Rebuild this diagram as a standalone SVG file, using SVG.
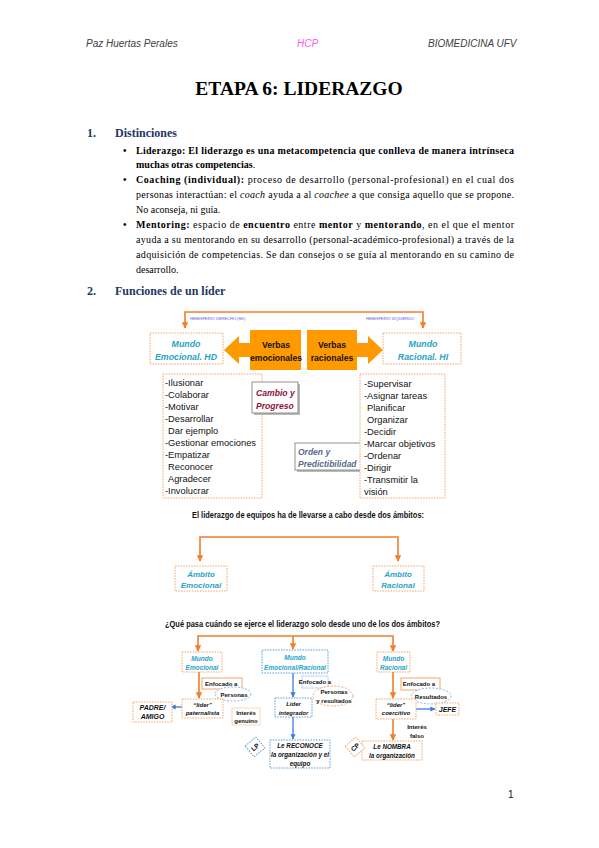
<svg xmlns="http://www.w3.org/2000/svg" width="599" height="848" viewBox="0 0 599 848">
<defs>
<style>
.hdr{font-family:"Liberation Sans",Arial,sans-serif;font-style:italic;font-size:10px;fill:#404040}
.body{font-family:"Liberation Serif","Times New Roman",serif;font-size:10px;fill:#000}
.h{font-family:"Liberation Serif","Times New Roman",serif;font-weight:bold;font-size:12px;fill:#1f3864}
.dg{font-family:"Liberation Sans",Arial,sans-serif;fill:#111}
.cy{font-family:"Liberation Sans",Arial,sans-serif;fill:#2aa3c6;font-style:italic;font-weight:bold}
.bi{font-weight:bold;font-style:italic}
.b{font-weight:bold}
.dor{fill:#fff;stroke:#f4a46a;stroke-width:1;stroke-dasharray:1.5 1.2}
.dbl{fill:#fff;stroke:#5b9bd5;stroke-width:1;stroke-dasharray:1.5 1.2}
.con{fill:none;stroke:#f07f2a;stroke-width:1.6}
.conb{fill:none;stroke:#3b7dd8;stroke-width:1.3}
.ell-b{fill:#fff;stroke:#8fb4e3;stroke-width:1;stroke-dasharray:2 1.5}
.ell-o{fill:#fff;stroke:#f4a46a;stroke-width:1;stroke-dasharray:2 1.5}
.mid{text-anchor:middle}
</style>
<marker id="ao" viewBox="0 0 10 10" refX="9" refY="5" markerWidth="4" markerHeight="4" orient="auto-start-reverse"><path d="M0,0 L10,5 L0,10 z" fill="#f07f2a"/></marker>
<marker id="ab" viewBox="0 0 10 10" refX="9" refY="5" markerWidth="4" markerHeight="4" orient="auto-start-reverse"><path d="M0,0 L10,5 L0,10 z" fill="#3b7dd8"/></marker>
</defs>
<rect width="599" height="848" fill="#fff"/>

<!-- header -->
<text class="hdr" x="86" y="47">Paz Huertas Perales</text>
<text class="hdr" x="297" y="47" style="fill:#f060f0">HCP</text>
<text class="hdr" x="428" y="47">BIOMEDICINA UFV</text>

<text x="299" y="95" class="mid" font-family="Liberation Serif, Times New Roman, serif" font-weight="bold" font-size="19.5">ETAPA 6: LIDERAZGO</text>

<text class="h" x="87" y="137">1.</text>
<text class="h" x="115" y="137">Distinciones</text>

<g class="body">
<text x="123" y="154" class="b">•</text>
<text x="123" y="183" class="b">•</text>
<text x="123" y="228" class="b">•</text>
<text x="136" y="153.5" class="b" textLength="378" lengthAdjust="spacing">Liderazgo: El liderazgo es una metacompetencia que conlleva de manera intrínseca</text>
<text x="136" y="167.5" class="b">muchas otras competencias<tspan font-weight="normal">.</tspan></text>
<text x="136" y="182.5" textLength="378" lengthAdjust="spacing"><tspan class="b">Coaching (individual):</tspan> proceso de desarrollo (personal-profesional) en el cual dos</text>
<text x="136" y="197.5" textLength="378" lengthAdjust="spacing">personas interactúan: el <tspan font-style="italic">coach</tspan> ayuda a al <tspan font-style="italic">coachee</tspan> a que consiga aquello que se propone.</text>
<text x="136" y="212.5">No aconseja, ni guía.</text>
<text x="136" y="227.5" textLength="378" lengthAdjust="spacing"><tspan class="b">Mentoring:</tspan> espacio de <tspan class="b">encuentro</tspan> entre <tspan class="b">mentor</tspan> y <tspan class="b">mentorando</tspan>, en el que el mentor</text>
<text x="136" y="242.5" textLength="378" lengthAdjust="spacing">ayuda a su mentorando en su desarrollo (personal-académico-profesional) a través de la</text>
<text x="136" y="257.5" textLength="378" lengthAdjust="spacing">adquisición de competencias. Se dan consejos o se guía al mentorando en su camino de</text>
<text x="136" y="272.5">desarrollo.</text>
</g>

<text class="h" x="87" y="295">2.</text>
<text class="h" x="115" y="295">Funciones de un líder</text>

<!-- connectors -->
<g id="connectors">
<path class="con" d="M185 328 V312 H423 V328" marker-start="url(#ao)" marker-end="url(#ao)"/>
<path class="con" d="M200 561 V537 H398 V561" marker-start="url(#ao)" marker-end="url(#ao)"/>
<path class="con" d="M198 651 V636 H393 V651" marker-start="url(#ao)" marker-end="url(#ao)"/>
<path class="con" d="M293 636 V649" marker-end="url(#ao)"/>
<path class="con" d="M199 672 V698" marker-end="url(#ao)"/>
<path class="conb" d="M182 707 H171" marker-end="url(#ab)"/>
<path class="conb" d="M293 673 V697" marker-end="url(#ab)"/>
<path class="conb" d="M293 717 V739" marker-end="url(#ab)"/>
<path class="con" d="M393 672 V698" marker-end="url(#ao)"/>
<path class="conb" d="M416 709 H435" marker-end="url(#ab)"/>
<path class="con" d="M393 719 V740" marker-end="url(#ao)"/>
</g>

<g id="hd-label"><text class="dg" x="190" y="320" font-size="4" style="fill:#5a50e0">HEMISFERIO DERECHO (HD)</text></g>
<g id="hi-label"><text class="dg" x="366" y="320" font-size="4" style="fill:#5a50e0">HEMISFERIO IZQUIERDO</text></g>

<g id="mundo-emocional-hd">
<rect class="dor" x="150" y="333" width="73" height="31"/>
<text class="cy mid" x="186" y="347" font-size="8.8">Mundo</text>
<text class="cy mid" x="186" y="360" font-size="8.8">Emocional. HD</text>
</g>

<g id="verbas-emocionales">
<polygon points="224,350 239,336 239,343 250,343 250,330 301,330 301,370 250,370 250,357 239,357 239,364" fill="#ff9900"/>
<text class="dg b mid" x="276" y="348" font-size="8.6">Verbas</text>
<text class="dg b mid" x="276" y="361" font-size="8.6">emocionales</text>
</g>

<g id="verbas-racionales">
<polygon points="383,350 368,336 368,343 357,343 357,330 307,330 307,370 357,370 357,357 368,357 368,364" fill="#ff9900"/>
<text class="dg b mid" x="332" y="348" font-size="8.6">Verbas</text>
<text class="dg b mid" x="332" y="361" font-size="8.6">racionales</text>
</g>

<g id="mundo-racional-hi">
<rect class="dor" x="383" y="333" width="78" height="31"/>
<text class="cy mid" x="423" y="347" font-size="8.8">Mundo</text>
<text class="cy mid" x="423" y="360" font-size="8.8">Racional. HI</text>
</g>

<g id="lista-emocional">
<rect class="dor" x="163" y="374" width="99" height="124"/>
<g class="dg" font-size="9.3">
<text x="165" y="386">-Ilusionar</text>
<text x="165" y="397.5">-Colaborar</text>
<text x="165" y="409.5">-Motivar</text>
<text x="165" y="421.5">-Desarrollar</text>
<text x="168" y="434">Dar ejemplo</text>
<text x="165" y="446">-Gestionar emociones</text>
<text x="165" y="457.5">-Empatizar</text>
<text x="168" y="470">Reconocer</text>
<text x="168" y="481.5">Agradecer</text>
<text x="165" y="493.5">-Involucrar</text>
</g>
</g>

<g id="cambio-progreso">
<rect x="254" y="384" width="46" height="31" fill="#bbb"/>
<rect x="252" y="382" width="46" height="31" fill="#fff" stroke="#777" stroke-width="0.8"/>
<text class="dg bi" x="256" y="396" font-size="8.6" style="fill:#8b1538">Cambio y</text>
<text class="dg bi" x="256" y="409" font-size="8.6" style="fill:#8b1538">Progreso</text>
</g>

<g id="orden-predictibilidad">
<rect x="297" y="445" width="67" height="27" fill="#bbb"/>
<rect x="295" y="443" width="67" height="27" fill="#fff" stroke="#777" stroke-width="0.8"/>
<text class="dg bi" x="298" y="455" font-size="8.5" style="fill:#5b6b8c">Orden y</text>
<text class="dg bi" x="298" y="467" font-size="8.5" style="fill:#5b6b8c">Predictibilidad</text>
</g>

<g id="lista-racional">
<rect class="dor" x="360" y="374" width="85" height="124"/>
<g class="dg" font-size="9.3">
<text x="364" y="387">-Supervisar</text>
<text x="364" y="399">-Asignar tareas</text>
<text x="367" y="411">Planificar</text>
<text x="367" y="423">Organizar</text>
<text x="364" y="435">-Decidir</text>
<text x="364" y="447">-Marcar objetivos</text>
<text x="364" y="459">-Ordenar</text>
<text x="364" y="470.5">-Dirigir</text>
<text x="364" y="482.5">-Transmitir la</text>
<text x="364" y="494.5">visión</text>
</g>
</g>

<text class="dg b mid" x="308" y="518" font-size="8.5" textLength="232" lengthAdjust="spacingAndGlyphs">El liderazgo de equipos ha de llevarse a cabo desde dos ámbitos:</text>

<g id="ambito-emocional">
<rect class="dor" x="175" y="566" width="52" height="25"/>
<text class="cy mid" x="201" y="577" font-size="8">Ámbito</text>
<text class="cy mid" x="201" y="588" font-size="8">Emocional</text>
</g>
<g id="ambito-racional">
<rect class="dor" x="373" y="566" width="51" height="25"/>
<text class="cy mid" x="398" y="577" font-size="8">Ámbito</text>
<text class="cy mid" x="398" y="588" font-size="8">Racional</text>
</g>

<text class="dg b mid" x="302.5" y="627" font-size="8.5" textLength="275" lengthAdjust="spacingAndGlyphs">¿Qué pasa cuándo se ejerce el liderazgo solo desde uno de los dos ámbitos?</text>

<g id="mundo-emocional">
<rect class="dor" x="182" y="652" width="40" height="20"/>
<text class="cy mid" x="202" y="661" font-size="6.5">Mundo</text>
<text class="cy mid" x="202" y="669.5" font-size="6.5">Emocional</text>
</g>
<g id="mundo-emocional-racional">
<rect class="dbl" x="262" y="650" width="66" height="23"/>
<text class="cy mid" x="295" y="660" font-size="6.5">Mundo</text>
<text class="cy mid" x="295" y="669.5" font-size="6.5">Emocional/Racional</text>
</g>
<g id="mundo-racional">
<rect class="dor" x="377" y="652" width="33" height="20"/>
<text class="cy mid" x="393.5" y="661" font-size="6.5">Mundo</text>
<text class="cy mid" x="393.5" y="669.5" font-size="6.5">Racional</text>
</g>

<!-- left column -->
<g id="enfocado-personas">
<rect x="202" y="678" width="40" height="11" fill="#fff" stroke="#f4a46a" stroke-width="1"/>
<text class="dg b" x="205" y="686" font-size="6">Enfocado a</text>
</g>
<g id="personas">
<ellipse class="ell-b" cx="233" cy="694" rx="18" ry="7"/>
<text class="dg b mid" x="234" y="696.5" font-size="6">Personas</text>
</g>
<g id="lider-paternalista">
<rect class="dor" x="182" y="699" width="41" height="19"/>
<text class="dg bi mid" x="202.5" y="706.5" font-size="6">“líder” </text>
<text class="dg bi mid" x="202.5" y="715" font-size="6">paternalista</text>
</g>
<g id="padre-amigo">
<rect class="dor" x="133" y="702" width="39" height="20"/>
<text class="dg bi mid" x="152.5" y="710" font-size="7">PADRE/</text>
<text class="dg bi mid" x="152.5" y="719" font-size="7">AMIGO</text>
</g>
<g id="interes-genuino">
<rect x="232" y="708" width="28" height="17" fill="#fff" stroke="#fbd5b5" stroke-width="1"/>
<text class="dg b mid" x="246" y="715" font-size="6">Interés</text>
<text class="dg b mid" x="246" y="723" font-size="6">genuino</text>
</g>

<!-- center column -->
<g id="enfocado-ambos">
<rect x="302" y="676" width="26" height="12" fill="#fff" stroke="#bdd7ee" stroke-width="1"/>
<text class="dg b mid" x="315" y="684" font-size="6">Enfocado a</text>
</g>
<g id="personas-resultados">
<ellipse class="ell-o" cx="333" cy="696" rx="20" ry="10"/>
<text class="dg b mid" x="334" y="694" font-size="6">Personas</text>
<text class="dg b mid" x="334" y="702.5" font-size="6">y resultados</text>
</g>
<g id="lider-integrador">
<rect class="dbl" x="275" y="698" width="37" height="19"/>
<text class="dg bi mid" x="293.5" y="706" font-size="6">Líder</text>
<text class="dg bi mid" x="293.5" y="714.5" font-size="6">integrador</text>
</g>
<g id="le-reconoce">
<rect class="dbl" x="270" y="740" width="60" height="28"/>
<text class="dg bi mid" x="300" y="748" font-size="6.3">Le RECONOCE</text>
<text class="dg bi mid" x="300" y="757" font-size="6.3">la organización y el</text>
<text class="dg bi mid" x="300" y="766" font-size="6.3">equipo</text>
</g>
<g id="icono-lp" transform="translate(255 747) rotate(-40)">
<rect class="dbl" x="-7" y="-7" width="14" height="14"/>
<text class="dg b mid" x="0" y="2.5" font-size="6.5">LP</text>
</g>

<!-- right column -->
<g id="enfocado-resultados">
<rect x="401" y="678" width="39" height="12" fill="#fff" stroke="#f4a46a" stroke-width="1"/>
<text class="dg b mid" x="419" y="686" font-size="6">Enfocado a</text>
</g>
<g id="resultados">
<ellipse class="ell-b" cx="431" cy="696" rx="20" ry="8"/>
<text class="dg b mid" x="431" y="698.5" font-size="6">Resultados</text>
</g>
<g id="lider-coercitivo">
<rect class="dor" x="376" y="699" width="40" height="20"/>
<text class="dg bi mid" x="396" y="706.5" font-size="6">“líder” </text>
<text class="dg bi mid" x="396" y="715" font-size="6">coercitivo</text>
</g>
<g id="jefe">
<rect class="dor" x="436" y="703" width="23" height="12"/>
<text class="dg bi mid" x="447.5" y="711.5" font-size="7">JEFE</text>
</g>
<g id="interes-falso">
<text class="dg b mid" x="417" y="729" font-size="6">Interés</text>
<text class="dg b mid" x="417" y="738" font-size="6">falso</text>
</g>
<g id="le-nombra">
<rect class="dor" x="362" y="741" width="60" height="19"/>
<text class="dg bi mid" x="392" y="749" font-size="6.3">Le NOMBRA</text>
<text class="dg bi mid" x="392" y="758" font-size="6.3">la organización</text>
</g>
<g id="icono-cp" transform="translate(355 747) rotate(-40)">
<rect class="dor" x="-7" y="-7" width="14" height="14"/>
<text class="dg b mid" x="0" y="2.5" font-size="6.5">CP</text>
</g>

<text class="dg" x="508" y="798" font-size="10">1</text>
</svg>
